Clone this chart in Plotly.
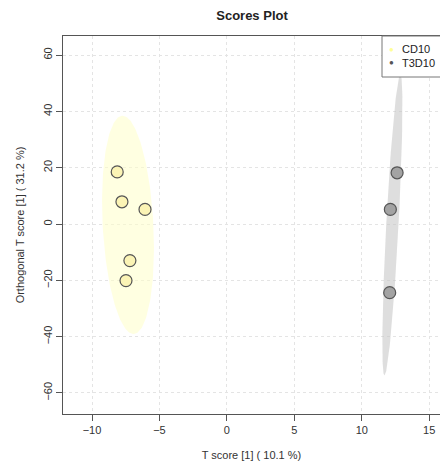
import numpy as np
import plotly.graph_objects as go

groups = ["CD10", "T3D10"]
cd10_x = [-8.13, -7.78, -6.07, -7.19, -7.48]
cd10_y = [18.5, 7.9, 5.2, -13.0, -20.1]
t3d10_x = [12.62, 12.12, 12.07]
t3d10_y = [18.2, 5.2, -24.4]
x_ticks = [-10, -5, 0, 5, 10, 15]
y_ticks = [-60, -40, -20, 0, 20, 40, 60]

fill_cols = {"CD10": "rgba(255,255,200,0.55)", "T3D10": "rgba(195,195,195,0.55)"}
pt_cols = {"CD10": "#FBF4B5", "T3D10": "#A3A3A3"}
leg_cols = {"CD10": "#FFFF99", "T3D10": "#555555"}

W, H = 440, 469
L, R, T, B = 63, 0, 36, 55
PW, PH = W - L - R, H - T - B


def px_x(p):
    return (p - L) / PW


def px_y(p):
    return (H - B - p) / PH


def ellipse(xs, ys, level_t=2.4477, n=200):
    xs = np.asarray(xs); ys = np.asarray(ys)
    cov = np.cov(xs, ys)
    vals, vecs = np.linalg.eigh(cov)
    th = np.linspace(0, 2 * np.pi, n)
    circ = np.vstack([np.cos(th), np.sin(th)])
    pts = vecs @ (np.sqrt(vals)[:, None] * circ) * level_t
    return pts[0] + xs.mean(), pts[1] + ys.mean()


fig = go.Figure()
data = {"CD10": (cd10_x, cd10_y), "T3D10": (t3d10_x, t3d10_y)}
for g in groups:
    ex, ey = ellipse(*data[g])
    fig.add_trace(go.Scatter(x=ex, y=ey, mode="lines", fill="toself",
                             fillcolor=fill_cols[g], line=dict(width=0),
                             showlegend=False, hoverinfo="skip"))
for g in groups:
    xs, ys = data[g]
    fig.add_trace(go.Scatter(x=xs, y=ys, mode="markers", showlegend=False,
                             name=g,
                             marker=dict(size=12, color=pt_cols[g],
                                         line=dict(color="#555555", width=1.2))))

font = "Liberation Sans, Arial, sans-serif"

# manual legend box (cut off by the right edge, like the reference)
fig.add_shape(type="rect", xref="paper", yref="paper",
              x0=px_x(382), x1=px_x(460), y0=px_y(77), y1=px_y(36),
              fillcolor="white", line=dict(color="#777777", width=1),
              layer="above")
for i, g in enumerate(groups):
    yc = px_y(49 + 14 * i)
    fig.add_annotation(xref="paper", yref="paper", x=px_x(391), y=yc,
                       text="●", showarrow=False, xanchor="center",
                       yanchor="middle",
                       font=dict(size=8, color=leg_cols[g], family=font))
    fig.add_annotation(xref="paper", yref="paper", x=px_x(400), y=yc,
                       text=g, showarrow=False, xanchor="left",
                       yanchor="middle",
                       font=dict(size=11, color="#222222", family=font))

fig.update_layout(
    width=W, height=H,
    margin=dict(l=L, r=R, t=T, b=B, autoexpand=False),
    paper_bgcolor="white", plot_bgcolor="white",
    showlegend=False,
    font=dict(family=font, size=11, color="#333333"),
    title=dict(text="<b>Scores Plot</b>", x=252 / W, xref="container",
               xanchor="center", y=1 - 15 / H, yref="container",
               yanchor="middle", font=dict(size=13, color="#222222")),
)
fig.update_xaxes(range=[-12.15, 15.8], tickvals=x_ticks, showline=True,
                 linecolor="#555555", linewidth=1, mirror=True,
                 ticks="outside", ticklen=6, tickcolor="#555555",
                 showgrid=True, gridcolor="#E4E4E4", griddash="dot",
                 zeroline=False,
                 title=dict(text="T score [1] ( 10.1 %)", standoff=16,
                            font=dict(size=11)))
fig.update_yaxes(range=[-67.5, 66.8], tickvals=y_ticks, showline=True,
                 linecolor="#555555", linewidth=1, mirror=False,
                 ticks="outside", ticklen=6, tickcolor="#555555",
                 tickangle=-90,
                 showgrid=True, gridcolor="#E4E4E4", griddash="dot",
                 zeroline=False,
                 title=dict(text="Orthogonal T score [1] ( 31.2 %)",
                            standoff=14, font=dict(size=11)))

fig.write_html("out.html")
